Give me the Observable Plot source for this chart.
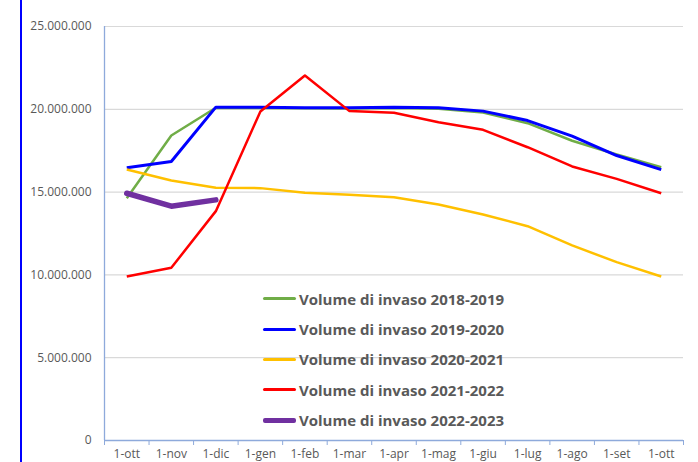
<!DOCTYPE html>
<html>
<head>
<meta charset="utf-8">
<script src="https://cdn.jsdelivr.net/npm/d3@7"></script>
<script src="https://cdn.jsdelivr.net/npm/@observablehq/plot@0.6"></script>
<style>
  html, body { margin: 0; padding: 0; background: #fff; }
  #wrap { position: relative; width: 698px; height: 462px; overflow: hidden; font-family: "Open Sans", sans-serif; }
  #edge { position: absolute; left: 20px; top: 0; width: 2px; height: 462px; background: #0000ff; }
  #legend { position: absolute; left: 263px; top: 283.5px; }
  .row { display: flex; align-items: center; height: 30.4px; }
  .sw { width: 33px; margin-right: 3px; border-radius: 2px; }
  .lab { font-weight: 700; font-size: 15px; color: #595959; white-space: nowrap; }
</style>
</head>
<body>
<div id="wrap"><div id="edge"></div><div id="chart"></div><div id="legend"></div></div>
<script>
const months = ["1-ott","1-nov","1-dic","1-gen","1-feb","1-mar","1-apr","1-mag","1-giu","1-lug","1-ago","1-set","1-ott"];
const seriesNames = ["Volume di invaso 2018-2019","Volume di invaso 2019-2020","Volume di invaso 2020-2021","Volume di invaso 2021-2022","Volume di invaso 2022-2023"];
const seriesColors = ["#70ad47","#0000ff","#ffc000","#ff0000","#7030a0"];
const seriesWidths = [2.5, 3, 2.5, 2.5, 5.5];
const v2018 = [14630000,18420000,20090000,20080000,20070000,20050000,20080000,20040000,19800000,19160000,18100000,17270000,16500000];
const v2019 = [16470000,16850000,20130000,20130000,20100000,20090000,20130000,20090000,19890000,19320000,18380000,17210000,16360000];
const v2020 = [16360000,15700000,15260000,15240000,14960000,14840000,14690000,14250000,13650000,12940000,11780000,10770000,9900000];
const v2021 = [9900000,10430000,13850000,19870000,22040000,19890000,19790000,19220000,18760000,17710000,16550000,15800000,14930000];
const v2022 = [14930000,14150000,14530000];
const yTicks = [0,5000000,10000000,15000000,20000000,25000000];

const allSeries = [v2018, v2019, v2020, v2021, v2022];
const rows = allSeries.flatMap((vals, s) => vals.map((v, i) => ({s, i, v})));
const itFmt = d3.formatLocale({decimal: ",", thousands: ".", grouping: [3], currency: ["€", ""]}).format(",d");
const idx = months.map((m, i) => i);
const bounds = d3.range(months.length + 1).map(i => i - 0.5);
const axisColor = "#8eaadb";

const chart = Plot.plot({
  width: 698,
  height: 462,
  marginLeft: 104,
  marginRight: 15,
  marginTop: 26,
  marginBottom: 22,
  style: {fontFamily: "Open Sans, sans-serif", fontSize: "12px", color: "#595959", background: "transparent"},
  x: {type: "linear", domain: [-0.5, months.length - 0.5], axis: null},
  y: {domain: [0, 25000000], axis: null},
  marks: [
    Plot.gridY(yTicks.filter(d => d > 0), {stroke: "#d9d9d9", strokeOpacity: 1, strokeWidth: 1.2}),
    Plot.axisY(yTicks, {tickSize: 0, tickPadding: 13, tickFormat: itFmt, fill: "#595959", fontSize: 12, label: null}),
    Plot.axisX(bounds, {tickSize: 5, tickFormat: () => "", stroke: axisColor, label: null}),
    Plot.axisX(idx, {tickSize: 0, tickPadding: 9, tickFormat: i => months[i], fill: "#595959", fontSize: 12, label: null}),
    Plot.ruleY([0], {stroke: axisColor, strokeWidth: 1.3}),
    Plot.ruleX([-0.5], {stroke: axisColor, strokeWidth: 1.3}),
    ...allSeries.map((vals, s) => Plot.line(rows.filter(r => r.s === s), {
      x: "i", y: "v", stroke: seriesColors[s], strokeWidth: seriesWidths[s],
      strokeLinejoin: "round", strokeLinecap: s === 4 ? "round" : "butt"
    }))
  ]
});
document.getElementById("chart").appendChild(chart);

const leg = document.getElementById("legend");
seriesNames.forEach((n, s) => {
  const r = document.createElement("div"); r.className = "row";
  const sw = document.createElement("div"); sw.className = "sw";
  sw.style.height = (s === 4 ? 5.5 : 3) + "px"; sw.style.background = seriesColors[s];
  const t = document.createElement("span"); t.className = "lab"; t.textContent = n;
  r.appendChild(sw); r.appendChild(t); leg.appendChild(r);
});
</script>
</body>
</html>
